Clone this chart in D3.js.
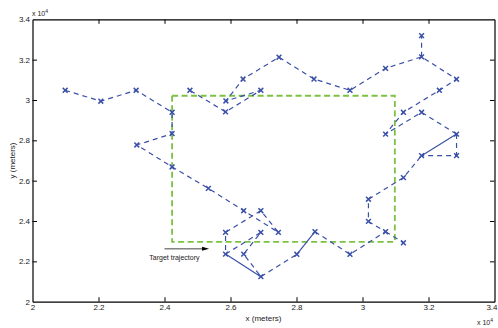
<!DOCTYPE html>
<html><head><meta charset="utf-8">
<script src="https://cdn.jsdelivr.net/npm/d3@7"></script>
<style>body{margin:0;background:#fff} text{font-family:"Liberation Sans",Arial,Helvetica,sans-serif}</style>
</head><body><svg id="c" width="498" height="328"></svg>
<script>
// values in units of 10^4 meters
const xTicks = [2, 2.2, 2.4, 2.6, 2.8, 3, 3.2, 3.4];
const yTicks = [2, 2.2, 2.4, 2.6, 2.8, 3, 3.2, 3.4];
const xTickLabels = ["2", "2.2", "2.4", "2.6", "2.8", "3", "3.2", "3.4"];
const yTickLabels = ["2", "2.2", "2.4", "2.6", "2.8", "3", "3.2", "3.4"];

// target trajectory (rectangle corners)
const targetX = [2.423, 3.098, 3.098, 2.423, 2.423];
const targetY = [3.021, 3.021, 2.297, 2.297, 3.021];

// estimated trajectory, dashed polylines
const dashedTracks = [
  [[2.099,3.048],[2.207,2.994],[2.314,3.048],[2.423,2.939],[2.423,2.833],[2.316,2.777],[2.423,2.668],[2.533,2.562],[2.640,2.451],[2.745,2.344],[2.692,2.451],[2.585,2.344],[2.585,2.236]],
  [[2.692,2.124],[2.801,2.235]],
  [[2.856,2.347],[2.962,2.235],[3.070,2.347],[3.018,2.398],[3.018,2.508],[3.124,2.615],[3.179,2.724]],
  [[3.285,2.831],[3.179,2.939],[3.070,2.831],[3.124,2.939],[3.233,3.048],[3.285,3.103],[3.179,3.214],[3.070,3.157],[2.962,3.048],[2.853,3.104],[2.747,3.212],[2.638,3.104],[2.586,2.995],[2.692,3.048],[2.585,2.941],[2.477,3.048]],
  [[3.070,2.347],[3.124,2.292]],
  [[3.179,3.214],[3.179,3.319]],
  [[3.285,2.831],[3.285,2.724],[3.179,2.724]],
  [[2.585,2.236],[2.692,2.344],[2.640,2.236],[2.692,2.124]]
];
// estimated trajectory, solid segments
const solidTracks = [
  [[2.585,2.236],[2.692,2.124]],
  [[2.801,2.235],[2.856,2.347]],
  [[3.179,2.724],[3.285,2.831]]
];

const legendText = "Target trajectory";
const legendArrow = [[2.40, 2.262], [2.535, 2.262]];
const legendTextPos = [2.43, 2.205];

const W = 498, H = 328;
const L = 32.5, R = 494.5, T = 19.3, B = 301.7;
const blue = "#3a50a8", green = "#7cc242";

const svg = d3.select("#c");
const x = d3.scaleLinear().domain([2, 3.4]).range([L, R]);
const y = d3.scaleLinear().domain([2, 3.4]).range([B, T]);

// target rectangle
const line = d3.line().x(d => x(d[0])).y(d => y(d[1]));
svg.append("path")
  .attr("d", line(targetX.map((v, i) => [v, targetY[i]])))
  .attr("fill", "none").attr("stroke", green).attr("stroke-width", 1.8)
  .attr("stroke-dasharray", "6,3.5");

// dashed tracks
svg.selectAll("path.dt").data(dashedTracks).enter().append("path")
  .attr("class", "dt").attr("d", line)
  .attr("fill", "none").attr("stroke", blue).attr("stroke-width", 1.2)
  .attr("stroke-dasharray", "5,4");
svg.selectAll("path.st").data(solidTracks).enter().append("path")
  .attr("class", "st").attr("d", line)
  .attr("fill", "none").attr("stroke", blue).attr("stroke-width", 1.2);

// markers
const seen = new Set(); const pts = [];
dashedTracks.concat(solidTracks).forEach(tr => tr.forEach(p => {
  const k = p[0] + "," + p[1]; if (!seen.has(k)) { seen.add(k); pts.push(p); }
}));
const ms = 2.4;
svg.selectAll("path.mk").data(pts).enter().append("path")
  .attr("class", "mk")
  .attr("d", d => { const cx = x(d[0]), cy = y(d[1]);
    return `M${cx-ms},${cy-ms}L${cx+ms},${cy+ms}M${cx-ms},${cy+ms}L${cx+ms},${cy-ms}`; })
  .attr("stroke", blue).attr("stroke-width", 1.5).attr("fill", "none");

// axes
const fs = "8px";
const ax = svg.append("g").attr("transform", `translate(0,${B})`)
  .call(d3.axisBottom(x).tickValues(xTicks).tickFormat((d, i) => xTickLabels[i]).tickSizeInner(-4.5).tickSizeOuter(0).tickPadding(3));
const ay = svg.append("g").attr("transform", `translate(${L},0)`)
  .call(d3.axisLeft(y).tickValues(yTicks).tickFormat((d, i) => yTickLabels[i]).tickSizeInner(-4.5).tickSizeOuter(0).tickPadding(2.5));
const axT = svg.append("g").attr("transform", `translate(0,${T})`)
  .call(d3.axisTop(x).tickValues(xTicks).tickFormat("").tickSizeInner(-4.5).tickSizeOuter(0));
const ayR = svg.append("g").attr("transform", `translate(${R},0)`)
  .call(d3.axisRight(y).tickValues(yTicks).tickFormat("").tickSizeInner(-4.5).tickSizeOuter(0));
[ax, ay, axT, ayR].forEach(g => {
  g.select(".domain").attr("stroke", "#000").attr("stroke-width", 1.2);
  g.selectAll(".tick line").attr("stroke", "#000").attr("stroke-width", 1);
  g.selectAll(".tick text").attr("fill", "#222").style("font-size", fs).style("font-family", '"Liberation Sans",Arial,sans-serif');
});
[axT, ayR, ax, ay].forEach(g => g.selectAll(".tick").filter((d, i, n) => i === 0 || i === n.length - 1).select("line").remove());
// keep last x label inside the window
ax.selectAll(".tick").filter((d, i, n) => i === n.length - 1).select("text").attr("text-anchor", "end").attr("x", 2.5);

// labels
svg.append("text").attr("x", (L + R) / 2).attr("y", 321).attr("text-anchor", "middle")
  .style("font-size", "8px").attr("fill", "#222").text("x (meters)");
svg.append("text").attr("transform", `translate(14.5,${(T + B) / 2}) rotate(-90)`).attr("text-anchor", "middle")
  .style("font-size", "8px").attr("fill", "#222").text("y (meters)");

// exponent labels
function expo(xp, yp) {
  const t = svg.append("text").attr("x", xp).attr("y", yp).style("font-size", "7px").attr("fill", "#222");
  t.append("tspan").text("x 10");
  t.append("tspan").attr("dy", -3).style("font-size", "5px").text("4");
}
expo(32, 15.5);
expo(477, 324.5);

// legend arrow
const ax0 = x(legendArrow[0][0]), ax1 = x(legendArrow[1][0]), ayy = y(legendArrow[0][1]);
svg.append("line").attr("x1", ax0).attr("x2", ax1 - 5).attr("y1", ayy).attr("y2", ayy)
  .attr("stroke", "#444").attr("stroke-width", 1);
svg.append("path").attr("d", `M${ax1},${ayy}L${ax1-7},${ayy-2}L${ax1-7},${ayy+2}Z`).attr("fill", "#000");
svg.append("text").attr("x", x(legendTextPos[0])).attr("y", y(legendTextPos[1])).attr("text-anchor", "middle")
  .style("font-size", "7px").attr("fill", "#222").text(legendText);
</script></body></html>
